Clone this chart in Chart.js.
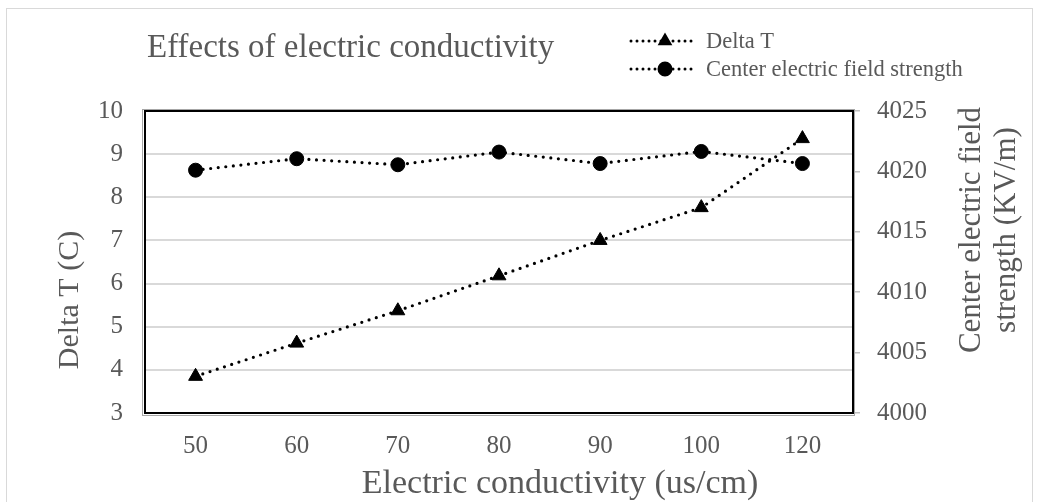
<!DOCTYPE html>
<html>
<head>
<meta charset="utf-8">
<script src="https://cdn.jsdelivr.net/npm/chart.js@4.4.1/dist/chart.umd.min.js"></script>
<style>
  html, body { margin: 0; padding: 0; background: #fff; }
  #wrap { width: 1039px; height: 502px; position: relative; }
</style>
</head>
<body>
<div id="wrap"><canvas id="effects"></canvas></div>
<script>
// values
const conductivity = ['50', '60', '70', '80', '90', '100', '120'];
const deltaT = [3.85, 4.62, 5.37, 6.18, 7.0, 7.76, 9.36];
const fieldStrength = [4020.1, 4021.05, 4020.55, 4021.6, 4020.65, 4021.65, 4020.65];
const deltaTTicks = [3, 4, 5, 6, 7, 8, 9, 10];
const fieldTicks = [4000, 4005, 4010, 4015, 4020, 4025];

const serif = '"Liberation Serif", serif';
const grey = '#595959';

// titles, legend and the boxed plot area, drawn the way the spreadsheet does
const decorations = {
  id: 'decorations',
  beforeDraw(chart) {
    const ctx = chart.ctx;
    ctx.save();
    ctx.strokeStyle = '#d9d9d9';
    ctx.lineWidth = 1;
    ctx.strokeRect(6.5, 8.5, 1026, 520);
    ctx.restore();
  },
  afterDraw(chart) {
    const ctx = chart.ctx;
    const a = chart.chartArea;
    ctx.save();

    // plot box
    ctx.strokeStyle = '#a6a6a6';
    ctx.lineWidth = 1;
    ctx.strokeRect(a.left - 2.5, a.top - 1.5, a.right - a.left + 4, a.bottom - a.top + 4);
    ctx.strokeStyle = '#000';
    ctx.lineWidth = 2;
    ctx.strokeRect(a.left, a.top, a.right - a.left, a.bottom - a.top);

    ctx.fillStyle = grey;
    ctx.textBaseline = 'alphabetic';

    // chart title
    ctx.textAlign = 'left';
    ctx.font = '33px ' + serif;
    ctx.fillText('Effects of electric conductivity', 147, 57);

    // x axis title
    ctx.textAlign = 'center';
    ctx.font = '34px ' + serif;
    ctx.fillText('Electric conductivity (us/cm)', 560, 493);

    // left axis title
    ctx.font = '30px ' + serif;
    ctx.save();
    ctx.translate(78, 300);
    ctx.rotate(-Math.PI / 2);
    ctx.fillText('Delta T (C)', 0, 0);
    ctx.restore();

    // right axis title, two lines
    ctx.font = '31px ' + serif;
    ctx.save();
    ctx.translate(980, 230);
    ctx.rotate(-Math.PI / 2);
    ctx.fillText('Center electric field', 0, 0);
    ctx.fillText('strength (KV/m)', 0, 35);
    ctx.restore();

    // legend
    ctx.font = '22.5px ' + serif;
    ctx.textAlign = 'left';
    chart.data.datasets.forEach((ds, i) => {
      const y = 41 + i * 28;
      ctx.save();
      ctx.strokeStyle = '#000';
      ctx.lineWidth = 3;
      ctx.lineCap = 'round';
      ctx.setLineDash([0, 6]);
      ctx.beginPath();
      ctx.moveTo(631, y);
      ctx.lineTo(693, y);
      ctx.stroke();
      ctx.restore();
      ctx.fillStyle = '#000';
      Chart.helpers.drawPoint(ctx, {
        pointStyle: ds.pointStyle, radius: 6.5, rotation: 0, borderWidth: 1
      }, 665, y);
      ctx.fillStyle = grey;
      ctx.fillText(ds.label, 706, y + 7);
    });

    ctx.restore();
  }
};

new Chart(document.getElementById('effects'), {
  type: 'line',
  data: {
    labels: conductivity,
    datasets: [{
      label: 'Delta T',
      data: deltaT,
      yAxisID: 'y',
      borderColor: '#000',
      backgroundColor: '#000',
      borderWidth: 3.2,
      borderDash: [0, 7.6],
      borderCapStyle: 'round',
      pointStyle: 'triangle',
      pointRadius: 8,
      pointBorderWidth: 1
    }, {
      label: 'Center electric field strength',
      data: fieldStrength,
      yAxisID: 'y2',
      borderColor: '#000',
      backgroundColor: '#000',
      borderWidth: 3.2,
      borderDash: [0, 7.6],
      borderCapStyle: 'round',
      pointStyle: 'circle',
      pointRadius: 7,
      pointBorderWidth: 1
    }]
  },
  options: {
    responsive: true,
    maintainAspectRatio: false,
    animation: false,
    devicePixelRatio: 1,
    events: [],
    layout: { padding: { left: 6, right: 7, top: 111, bottom: 0 } },
    plugins: {
      legend: { display: false },
      title: { display: false },
      tooltip: { enabled: false }
    },
    scales: {
      x: {
        offset: true,
        grid: { display: false },
        border: { display: false },
        ticks: { color: grey, font: { family: serif, size: 25 }, padding: 10, maxRotation: 0 },
        afterFit: axis => { axis.height = 89; }
      },
      y: {
        position: 'left',
        min: deltaTTicks[0],
        max: deltaTTicks[deltaTTicks.length - 1],
        afterBuildTicks: axis => { axis.ticks = deltaTTicks.map(v => ({ value: v })); },
        grid: { color: '#d9d9d9', lineWidth: 2, drawTicks: false },
        border: { display: false },
        ticks: { color: grey, font: { family: serif, size: 25 }, padding: 22 },
        afterFit: axis => { axis.width = 139; }
      },
      y2: {
        position: 'right',
        min: fieldTicks[0],
        max: fieldTicks[fieldTicks.length - 1],
        afterBuildTicks: axis => { axis.ticks = fieldTicks.map(v => ({ value: v })); },
        grid: { drawOnChartArea: false, color: '#bfbfbf', lineWidth: 1.5, tickLength: 7 },
        border: { display: true, color: '#808080', width: 1 },
        ticks: {
          color: grey, font: { family: serif, size: 25 }, padding: 17,
          callback: v => String(v)
        },
        afterFit: axis => { axis.width = 179; }
      }
    }
  },
  plugins: [decorations]
});
</script>
</body>
</html>
